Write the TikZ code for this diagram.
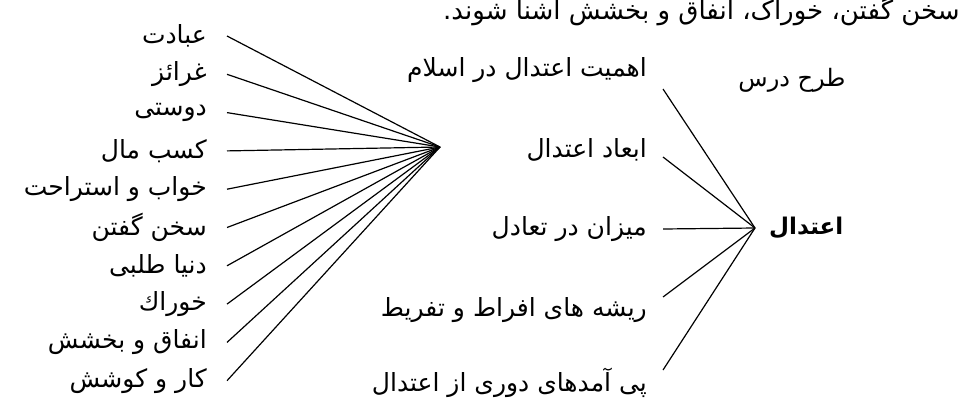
\documentclass[tikz,border=0pt]{standalone}
\usepackage{fontspec}
\newfontfamily\arabicfont[Script=Arabic]{DejaVu Sans}
\TeXXeTstate=1
\newcommand{\fa}{\arabicfont\fontsize{25}{28}\selectfont}
\tikzset{
  item/.style={anchor=east, inner sep=0pt, font=\fa},
  mid/.style={anchor=east, inner sep=0pt, font=\fa},
  conn/.style={line width=1.2pt, black},
}
\begin{document}
\begin{tikzpicture}[x=1pt,y=-1pt]
\useasboundingbox (0,0) rectangle (959,410);
% top line of the page (cut at the top)
\node[anchor=base west, inner sep=0pt, font=\arabicfont\fontsize{26}{29}\selectfont] (top) at (443,19)
  {\beginR سخن گفتن، خوراک، انفاق و بخشش آشنا شوند.\endR};
% hubs
\coordinate (hubL) at (440,147);
\coordinate (hubR) at (755,228);
% left list
\foreach \i/\t in {0/عبادت,1/غرائز,2/دوستی,3/کسب مال,4/خواب و استراحت,5/سخن گفتن,6/دنیا طلبی,7/خوراك,8/انفاق و بخشش,9/کار و کوشش}{
  \node[item] (l\i) at (207,36+38.3*\i) {\beginR\t\endR};
  \draw[conn] ([xshift=20pt]l\i.east) -- (hubL);
}
% middle list
\node[mid] (m1) at (647,70) {\beginR اهمیت اعتدال در اسلام\endR};
\node[mid] (m2) at (647,150) {\beginR ابعاد اعتدال\endR};
\node[mid] (m3) at (647,229) {\beginR میزان در تعادل\endR};
\node[mid] (m4) at (647,310) {\beginR ریشه های افراط و تفریط\endR};
\node[mid] (m5) at (647,383) {\beginR پی آمدهای دوری از اعتدال\endR};
\draw[conn] ([xshift=16pt,yshift=-19pt]m1.east) -- (hubR);
\draw[conn] ([xshift=16pt,yshift=-7pt]m2.east) -- (hubR);
\draw[conn] ([xshift=16pt]m3.east) -- (hubR);
\draw[conn] ([xshift=16pt,yshift=13pt]m4.east) -- (hubR);
\draw[conn] ([xshift=16pt,yshift=13pt]m5.east) -- (hubR);
% right
\node[anchor=west, inner sep=0pt, font=\arabicfont\bfseries\fontsize{23}{26}\selectfont] (root) at (769,228) {\beginR اعتدال\endR};
\node[inner sep=0pt, font=\arabicfont\fontsize{24}{28}\selectfont] (title) at (792,80) {\beginR طرح درس\endR};
\end{tikzpicture}
\end{document}
